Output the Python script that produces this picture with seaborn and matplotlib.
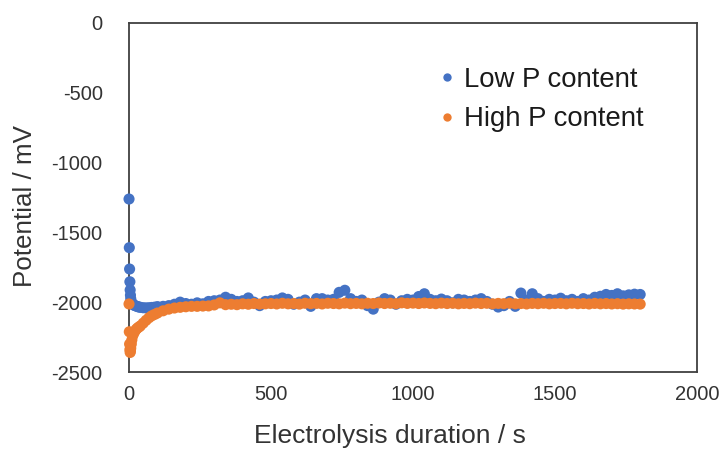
import matplotlib
matplotlib.use("Agg")
import matplotlib.pyplot as plt
from matplotlib.lines import Line2D
import numpy as np
import pandas as pd
import seaborn as sns

# Sampling times (s)
time_s = [0, 1, 2, 3, 4, 5, 6, 8, 10, 13, 16, 20, 25, 30, 35, 40, 50, 60, 70, 80, 90, 100,
          120, 140, 160, 180, 200, 220, 240, 260, 280, 300,
          320, 340, 360, 380, 400, 420, 440, 460, 480, 500,
          520, 540, 560, 580, 600, 620, 640, 660, 680, 700,
          720, 740, 760, 780, 800, 820, 840, 860, 880, 900,
          920, 940, 960, 980, 1000, 1020, 1040, 1060, 1080, 1100,
          1120, 1140, 1160, 1180, 1200, 1220, 1240, 1260, 1280, 1300,
          1320, 1340, 1360, 1380, 1400, 1420, 1440, 1460, 1480, 1500,
          1520, 1540, 1560, 1580, 1600, 1620, 1640, 1660, 1680, 1700,
          1720, 1740, 1760, 1780, 1800]

# Potential (mV), low phosphorus bath
low_p = [-1262, -1610, -1763, -1854, -1913, -1950, -1975, -1995, -2008, -2015, -2020,
         -2024, -2028, -2032, -2035, -2037, -2040, -2041, -2040, -2038, -2036, -2032,
         -2030, -2025, -2015, -2000, -2010, -2015, -2005, -2012, -1995, -1990,
         -1985, -1965, -1980, -1995, -1990, -1970, -2000, -2025, -1995, -1990,
         -1985, -1970, -1980, -2015, -2000, -1985, -2030, -1975, -1975, -1985,
         -1980, -1930, -1915, -1975, -1995, -1985, -2025, -2050, -2000, -1975,
         -1985, -2015, -1990, -1980, -1985, -1960, -1940, -1980, -1990, -1978,
         -1990, -2005, -1980, -1985, -1995, -1985, -1975, -1995, -2015, -2035,
         -2025, -1995, -2030, -1935, -1985, -1940, -1975, -1995, -1980, -1985,
         -1972, -1990, -1980, -1995, -1975, -1985, -1965, -1958, -1945, -1952,
         -1940, -1955, -1948, -1943, -1945]

# Potential (mV), high phosphorus bath
high_p = [-2013, -2212, -2300, -2340, -2360, -2350, -2330, -2300, -2270, -2240, -2225,
          -2210, -2195, -2185, -2178, -2170, -2150, -2130, -2112, -2098, -2088, -2078,
          -2062, -2050, -2042, -2037, -2033, -2030, -2030, -2028, -2027, -2020,
          -2005, -2018, -2015, -2018, -2012, -2015, -2010, -2014, -2012, -2010,
          -2013, -2008, -2012, -2010, -2014, -2008, -2011, -2009, -2013, -2008,
          -2010, -2012, -2007, -2011, -2009, -2012, -2008, -2010, -2006, -2010,
          -2008, -2011, -2005, -2009, -2007, -2010, -2006, -2009, -2011, -2007,
          -2010, -2008, -2012, -2009, -2011, -2007, -2010, -2008, -2012, -2009,
          -2011, -2008, -2012, -2010, -2013, -2009, -2011, -2008, -2012, -2010,
          -2009, -2012, -2008, -2011, -2010, -2013, -2009, -2012, -2010, -2013,
          -2011, -2014, -2012, -2013, -2014]

series_names = ["Low P content", "High P content"]
series_colors = ["#4472C4", "#ED7D31"]

x_ticks = [0, 500, 1000, 1500, 2000]
y_ticks = [0, -500, -1000, -1500, -2000, -2500]

df = pd.DataFrame({
    "t": time_s * 2,
    "E": low_p + high_p,
    "bath": [series_names[0]] * len(time_s) + [series_names[1]] * len(time_s),
})

sns.set_theme(style="white")
plt.rcParams["font.family"] = ["Liberation Sans", "DejaVu Sans"]

fig = plt.figure(figsize=(7.2, 4.54), dpi=100)
ax = fig.add_axes([0.1792, 0.1806, 0.7888, 0.7694])

sns.scatterplot(data=df, x="t", y="E", hue="bath", hue_order=series_names,
                palette=series_colors, s=64, linewidth=0, alpha=1.0,
                legend=False, ax=ax, clip_on=False, zorder=3)

ax.set_xlim(0, 2000)
ax.set_ylim(-2500, 0)
ax.set_xticks(x_ticks)
ax.set_yticks(y_ticks)
ax.set_xticklabels([str(v) for v in x_ticks])
ax.set_yticklabels([str(v) for v in y_ticks])

spine_color = "#404040"
for sp in ax.spines.values():
    sp.set_color(spine_color)
    sp.set_linewidth(1.3)
    sp.set_visible(True)

ax.tick_params(axis="both", direction="in", length=5, width=1.1, color=spine_color,
               labelsize=14.5, labelcolor="#333333")
ax.tick_params(axis="y", pad=19)
ax.tick_params(axis="x", pad=9)

ax.set_xlabel("Electrolysis duration / s", fontsize=19, color="#333333")
ax.set_ylabel("Potential / mV", fontsize=18.7, color="#333333")
ax.xaxis.set_label_coords(0.46, -0.148)
ax.yaxis.set_label_coords(-0.162, 0.475)

handles = [Line2D([0], [0], marker="o", linestyle="none", markersize=6,
                  markerfacecolor=c, markeredgewidth=0) for c in series_colors]
leg = ax.legend(handles, series_names, loc="upper left", bbox_to_anchor=(0.517, 0.906),
                frameon=False, fontsize=19.8, handletextpad=0.1, handlelength=1.0,
                labelspacing=0.5, borderaxespad=0)
for txt in leg.get_texts():
    txt.set_color("#1a1a1a")

fig.savefig("out.png", dpi=100)
